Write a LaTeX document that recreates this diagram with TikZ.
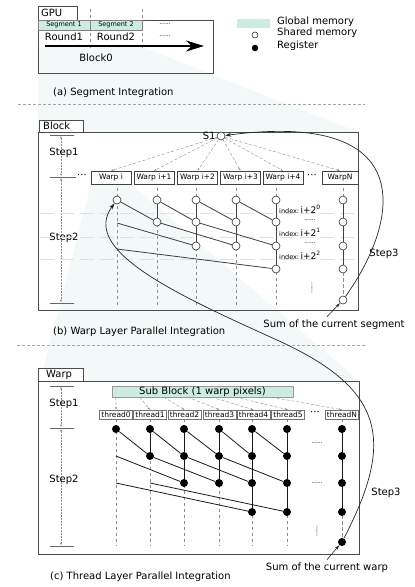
\documentclass[tikz,border=0pt]{standalone}
\usepackage{fontspec}
\setmainfont{DejaVu Sans}
\usetikzlibrary{arrows.meta, positioning}

\definecolor{gmem}{RGB}{204,236,226}
\definecolor{zoomshade}{RGB}{243,249,248}

\tikzset{
    boxline/.style={draw=black!70, line width=0.8pt},
    tablabel/.style={anchor=west, inner sep=0pt},
    segcell/.style={draw=black!50, fill=gmem, line width=0.4pt, minimum width=52pt, minimum height=10pt, inner sep=0pt, font=\fontsize{6.5}{7}\selectfont},
    smem/.style={circle, draw=black!80, fill=white, line width=0.6pt, inner sep=0pt, minimum size=8pt},
    reg/.style={circle, fill=black, inner sep=0pt, minimum size=8pt},
    warpbox/.style={draw=black!75, fill=white, line width=0.6pt, minimum width=40pt, minimum height=13pt, inner sep=0.5pt, font=\fontsize{7.5}{8}\selectfont},
    thbox/.style={draw=black!55, fill=white, line width=0.5pt, minimum width=33pt, minimum height=9pt, inner sep=0.5pt, font=\fontsize{7.5}{8}\selectfont},
    tick/.style={draw=black!60, line width=0.5pt},
    stepline/.style={draw=black!45, densely dotted, line width=0.5pt, {Stealth[length=2.5pt,width=2pt]}-{Stealth[length=2.5pt,width=2pt]}},
    fan/.style={draw=black!45, densely dashed, line width=0.4pt, -{Stealth[length=3pt,width=2pt]}},
    guide/.style={draw=black!45, dashed, line width=0.4pt},
    faint/.style={draw=black!12, dash pattern=on 14pt off 6pt, line width=1pt},
    link/.style={draw=black!75, line width=0.8pt},
    rlink/.style={draw=black!90, line width=0.8pt},
    curve/.style={draw=black!85, line width=0.7pt, -{Stealth[length=6pt,width=4pt]}},
    pointer/.style={draw=black!85, line width=0.6pt, -{Stealth[length=5pt,width=3pt]}},
    dotsnode/.style={font=\fontsize{6}{7}\selectfont, inner sep=0pt},
    sep/.style={draw=black!35, densely dashed, line width=0.6pt}
}

\begin{document}
\begin{tikzpicture}[x=1pt, y=-1pt, font=\fontsize{10}{12}\selectfont]
    \useasboundingbox (0,0) rectangle (415,587);

    % Zoom-in shading
    \fill[zoomshade] (38,47) -- (142,47) -- (358,132) -- (38,132) -- cycle;
    \fill[zoomshade] (91,184) -- (131,184) -- (359,381) -- (40,381) -- cycle;

    % (a) Segment integration
    \draw[boxline, fill=white] (38,6) rectangle (77,20);
    \node[tablabel] (gpulabel) at (41,13) {GPU};
    \draw[boxline] (38,20) rectangle (213,73);
    \draw[guide] (90,9) -- (90,50);
    \draw[guide] (142,9) -- (142,50);
    \node[segcell] (seg1) at (64,25) {Segment 1};
    \node[segcell] (seg2) at (116,25) {Segment 2};
    \node[dotsnode] (segdots) at (165,24) {......};
    \node (round1) at (64,37) {Round1};
    \node (round2) at (116,37) {Round2};
    \node[dotsnode] (rounddots) at (165,36) {......};
    \coordinate (roundstart) at (45,46);
    \coordinate (roundend) at (204,46);
    \draw[line width=2.2pt, -{Stealth[length=18pt,width=11pt]}] (roundstart) -- (roundend);
    \node (block0) at (96,58) {Block0};

    % Legend
    \fill[gmem] (237,19) rectangle (270,28);
    \node[anchor=west, inner sep=0pt] (lgglobal) at (277,22) {Global memory};
    \node[smem, minimum size=6pt] (lgshared) at (255,35) {};
    \node[anchor=west, inner sep=0pt] (lgsharedlabel) at (277,33) {Shared memory};
    \node[reg, minimum size=6.5pt] (lgreg) at (255,48) {};
    \node[anchor=west, inner sep=0pt] (lgreglabel) at (277,46) {Register};

    \node[anchor=west, inner sep=0pt] (capa) at (53,93) {(a) Segment Integration};
    \draw[sep] (18,104) -- (365,104);

    % (b) Warp layer
    \draw[boxline, fill=white] (39,120) rectangle (83,132);
    \node[tablabel] (blocklabel) at (43,126) {Block};
    \draw[boxline] (38,132) rectangle (358,310);

    % Steps
    \draw[tick] (50,135) -- (74,135);
    \draw[tick] (50,177) -- (76,177);
    \draw[tick] (50,303) -- (74,303);
    \draw[stepline] (61,136) -- (61,176);
    \draw[stepline] (61,178) -- (61,302);
    \node (bstep1) at (64,153) {Step1};
    \node (bstep2) at (64,238) {Step2};
    \node[inner sep=0pt] (bdotsl) at (82,176) {···};

    % Row and column guides
    \foreach \y in {213,237,259} \draw[faint] (40,\y) -- (356,\y);
    \foreach \x in {117,157,196,236,276} \draw[guide] (\x,188) -- (\x,306);
    \draw[guide] (343,188) -- (343,296);

    % Warps
    \foreach \n/\x/\t in {0/111/Warp i, 1/154/Warp i+1, 2/197.5/Warp i+2, 3/240.5/Warp i+3, 4/283/Warp i+4}
        \node[warpbox] (warp\n) at (\x,177.5) {\t};
    \node[warpbox, minimum width=36pt] (warpn) at (340,177.5) {WarpN};
    \node[inner sep=0pt] (bdotsr) at (312,176) {···};

    % S1
    \node[smem] (s1) at (221,136) {};
    \node[left=1pt of s1, inner sep=0pt] (s1label) {S1};
    \foreach \w in {warp0,warp1,warp2,warp3,warp4,warpn} \draw[fan] (s1) -- (\w.north);

    % Shared memory cells
    \foreach \c/\x in {1/117,2/157,3/196,4/236,5/276,6/343} \node[smem] (sm-\c-1) at (\x,200) {};
    \foreach \c/\x in {2/157,3/196,4/236,5/276,6/343} \node[smem] (sm-\c-2) at (\x,222) {};
    \foreach \c/\x in {3/196,4/236,5/276,6/343} \node[smem] (sm-\c-3) at (\x,246) {};
    \foreach \c/\x in {5/276,6/343} \node[smem] (sm-\c-4) at (\x,269) {};
    \node[smem] (sumseg) at (343,300) {};
    \coordinate (b1r2) at (117,223);
    \coordinate (b1r3) at (117,249);

    % Reduction links
    \foreach \a/\b in {1/2,2/3,3/4,4/5} \draw[link] (sm-\a-1) -- (sm-\b-2);
    \foreach \c in {2,3,4,5,6} \draw[link] (sm-\c-1) -- (sm-\c-2);
    \foreach \c in {3,4,5,6} \draw[link] (sm-\c-2) -- (sm-\c-3);
    \foreach \c in {5,6} \draw[link] (sm-\c-3) -- (sm-\c-4);
    \draw[link] (b1r2) -- (sm-3-3);
    \draw[link] (sm-2-2) -- (sm-4-3);
    \draw[link] (sm-3-2) -- (sm-5-3);
    \draw[link] (b1r3) -- (sm-5-4);
    \draw[guide] (sm-6-4) -- (sumseg);

    % Index labels
    \foreach \k/\y in {0/209.5,1/232.5,2/255.5}
        \node[anchor=west, inner sep=0pt, font=\fontsize{9}{10}\selectfont] (idx\k) at (279,\y) {{\fontsize{6.5}{7}\selectfont index:}\,i+2\textsuperscript{\k}};
    \node[dotsnode] (idxdots0) at (310,220) {......};
    \node[dotsnode] (idxdots1) at (310,243.5) {......};
    \node[dotsnode, rotate=90] (bvdots) at (312,288) {......};

    % Step3 of the warp layer
    \draw[curve] (sumseg) .. controls (400,220) and (420,110) .. (s1);
    \node (bstep3) at (384,254) {Step3};
    \node (sumseglabel) at (334,325) {Sum of the current segment};
    \draw[pointer] ([xshift=-7pt]sumseglabel.north) -- (sumseg);

    \node[anchor=west, inner sep=0pt] (capb) at (53,332) {(b) Warp Layer Parallel Integration};
    \draw[sep] (17,345) -- (365,345);

    % (c) Thread layer
    \draw[boxline, fill=white] (38,368) rectangle (83,381);
    \node[tablabel] (warplabel) at (46,374.5) {Warp};
    \draw[boxline] (38,381) rectangle (359,554);
    \node[draw=black!40, fill=gmem, minimum width=181pt, minimum height=11pt, inner sep=0pt] (subblock) at (202.5,391.5) {Sub Block (1 warp pixels)};

    % Steps
    \draw[tick] (50,386) -- (74,386);
    \draw[tick] (50,428) -- (74,428);
    \draw[tick] (50,546) -- (74,546);
    \draw[stepline] (61,387) -- (61,427);
    \draw[stepline] (61,429) -- (61,545);
    \node (cstep1) at (64,404) {Step1};
    \node (cstep2) at (64,480) {Step2};

    % Column guides
    \foreach \x in {116,150,184,219,252,287} \draw[guide] (\x,419) -- (\x,546);
    \draw[guide] (342,419) -- (342,538);

    % Threads
    \foreach \n/\x in {0/116,1/150,2/184.5,3/219.5,4/253.5,5/288}
        \node[thbox] (thread\n) at (\x,414.5) {thread\n};
    \node[thbox] (threadn) at (342,414.5) {threadN};
    \node[inner sep=0pt] (cdotsr) at (315,413) {···};
    \foreach \n/\dx in {0/4,1/28,2/52,3/76,4/100,5/124,n/160}
        \draw[fan] ([xshift=\dx pt]subblock.south west) -- (thread\n.north);

    % Registers
    \foreach \c/\x in {0/116,1/150,2/184,3/219,4/252,5/287,n/342} \node[reg] (reg-\c-1) at (\x,429) {};
    \foreach \c/\x in {1/150,2/184,3/219,4/252,5/287,n/342} \node[reg] (reg-\c-2) at (\x,456) {};
    \foreach \c/\x in {2/184,3/219,4/252,5/287,n/342} \node[reg] (reg-\c-3) at (\x,483) {};
    \foreach \c/\x in {4/252,5/287,n/342} \node[reg] (reg-\c-4) at (\x,512) {};
    \node[reg] (sumwarp) at (342,542) {};
    \coordinate (c0r2) at (116,456);
    \coordinate (c0r3) at (116,483);
    \coordinate (c1r3) at (150,483);

    % Reduction links
    \foreach \a/\b in {0/1,1/2,2/3,3/4,4/5} \draw[rlink] (reg-\a-1) -- (reg-\b-2);
    \foreach \c in {1,2,3,4,5,n} \draw[rlink] (reg-\c-1) -- (reg-\c-2);
    \foreach \c in {2,3,4,5,n} \draw[rlink] (reg-\c-2) -- (reg-\c-3);
    \foreach \c in {4,5,n} \draw[rlink] (reg-\c-3) -- (reg-\c-4);
    \draw[rlink] (c0r2) -- (reg-2-3);
    \foreach \a/\b in {1/3,2/4,3/5} \draw[rlink] (reg-\a-2) -- (reg-\b-3);
    \draw[rlink] (c0r3) -- (reg-4-4);
    \draw[rlink] (c1r3) -- (reg-5-4);
    \draw[guide] (reg-n-4) -- (sumwarp);
    \node[dotsnode] (cdots1) at (317,443) {......};
    \node[dotsnode] (cdots2) at (317,483) {......};
    \node[dotsnode, rotate=90] (cvdots) at (317,531) {......};

    % Step3 of the thread layer
    \coordinate (bend) at (277,340);
    \draw[curve] (sumwarp) .. controls (395,440) and (385,389) .. (bend) .. controls (175,294) and (80,250) .. (sm-1-1);
    \node (cstep3) at (386,493) {Step3};
    \node (sumwarplabel) at (327,568) {Sum of the current warp};
    \draw[pointer] (sumwarplabel.north) -- (sumwarp);

    \node[anchor=west, inner sep=0pt] (capc) at (50,577) {(c) Thread Layer Parallel Integration};
\end{tikzpicture}
\end{document}
